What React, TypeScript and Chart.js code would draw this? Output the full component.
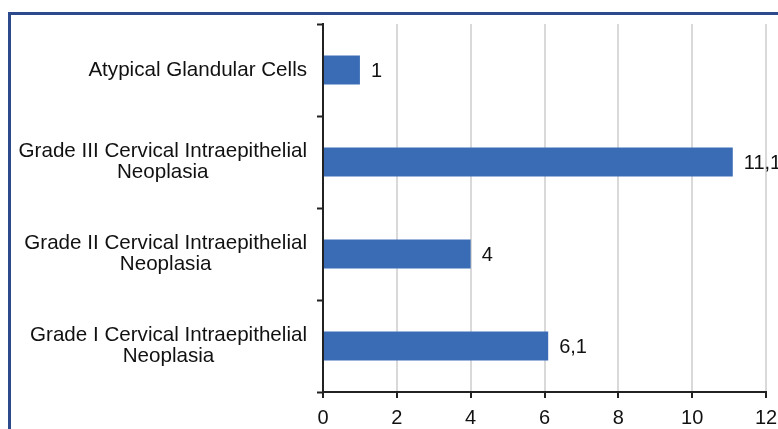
import React, { useEffect, useRef } from "react";
import { Chart, registerables } from "chart.js";

Chart.register(...registerables);

const categories: string[][] = [
  ["Atypical Glandular Cells"],
  ["Grade III Cervical Intraepithelial", "Neoplasia"],
  ["Grade II Cervical Intraepithelial", "Neoplasia"],
  ["Grade I Cervical Intraepithelial", "Neoplasia"],
];
const values: number[] = [1, 11.1, 4, 6.1];
const xMin = 0;
const xMax = 12;
const xStep = 2;

const W = 830;
const H = 470;
const FONT = '"Liberation Sans", Arial, sans-serif';
const TEXT = "#111111";
const AXIS = "#222222";

const yLabelPlugin = {
  id: "yLabelPlugin",
  afterDraw(chart: any) {
    const ys = chart.scales.y;
    const ctx = chart.ctx;
    ctx.save();
    ctx.font = `20.6px ${FONT}`;
    ctx.fillStyle = TEXT;
    ctx.textAlign = "center";
    ctx.textBaseline = "middle";
    const lh = 21;
    const rightX = ys.right - 16;
    categories.forEach((lines, i) => {
      const y = ys.getPixelForValue(i);
      const maxW = Math.max(...lines.map((l) => ctx.measureText(l).width));
      const cx = rightX - maxW / 2;
      const y0 = y - ((lines.length - 1) * lh) / 2;
      lines.forEach((l, j) => ctx.fillText(l, cx, y0 + j * lh));
    });
    ctx.restore();
  },
};

const valueLabelPlugin = {
  id: "valueLabelPlugin",
  afterDatasetsDraw(chart: any) {
    const ctx = chart.ctx;
    const meta = chart.getDatasetMeta(0);
    ctx.save();
    ctx.font = `20px ${FONT}`;
    ctx.fillStyle = TEXT;
    ctx.textAlign = "left";
    ctx.textBaseline = "middle";
    meta.data.forEach((el: any, i: number) => {
      const txt = String(values[i]).replace(".", ",");
      ctx.fillText(txt, el.x + 11, el.y + 1);
    });
    ctx.restore();
  },
};

export default function App() {
  const ref = useRef<HTMLCanvasElement>(null);
  useEffect(() => {
    if (!ref.current) return;
    const chart = new Chart(ref.current, {
      type: "bar",
      data: {
        labels: categories.map((c) => c.join(" ")),
        datasets: [
          {
            data: values,
            backgroundColor: "#3a6cb5",
            borderWidth: 0,
            barPercentage: 0.315,
            categoryPercentage: 1,
          },
        ],
      },
      options: {
        indexAxis: "y",
        animation: false,
        responsive: false,
        devicePixelRatio: 1,
        layout: { padding: { top: 24, left: 0, right: W - 766, bottom: 0 } },
        plugins: {
          legend: { display: false },
          tooltip: { enabled: false },
        },
        scales: {
          x: {
            min: xMin,
            max: xMax,
            ticks: {
              stepSize: xStep,
              color: TEXT,
              font: { size: 20, family: FONT },
              padding: 8,
            },
            grid: {
              color: "#d9d9d9",
              lineWidth: 2,
              tickColor: AXIS,
              tickLength: 6,
              tickWidth: 2,
            },
            border: { color: AXIS, width: 2 },
            afterFit: (s: any) => {
              s.height = H - 392;
            },
          },
          y: {
            ticks: { display: false },
            grid: {
              drawOnChartArea: false,
              offset: true,
              tickColor: AXIS,
              tickLength: 6,
              tickWidth: 2,
            },
            border: { color: AXIS, width: 2 },
            afterFit: (s: any) => {
              s.width = 323;
            },
          },
        },
      },
      plugins: [yLabelPlugin, valueLabelPlugin],
    } as any);
    return () => chart.destroy();
  }, []);

  return (
    <div
      style={{
        position: "fixed",
        left: 0,
        top: 0,
        width: 778,
        height: 429,
        overflow: "hidden",
        background: "#fff",
      }}
    >
      <div
        style={{
          position: "absolute",
          left: 8,
          top: 12,
          width: 900,
          height: 600,
          borderTop: "3px solid #2d4a8c",
          borderLeft: "3px solid #2d4a8c",
          boxSizing: "border-box",
        }}
      />
      <canvas
        ref={ref}
        width={W}
        height={H}
        style={{ position: "absolute", left: 0, top: 0, width: W, height: H }}
      />
    </div>
  );
}
